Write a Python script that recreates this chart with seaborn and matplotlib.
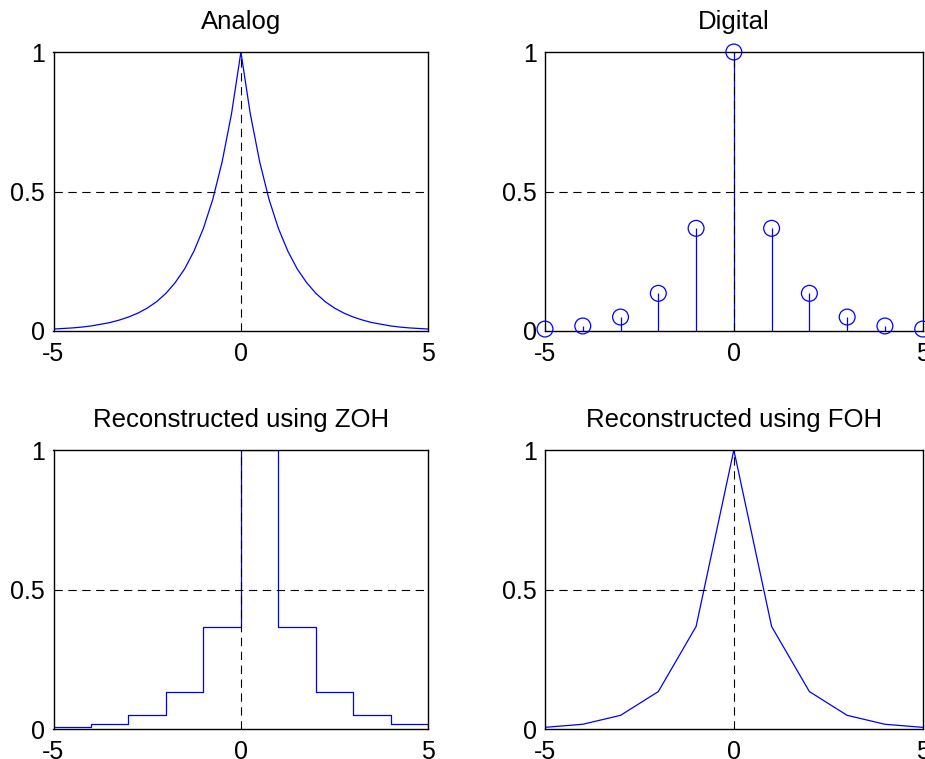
import numpy as np
import pandas as pd
import matplotlib
matplotlib.use("Agg")
import matplotlib.pyplot as plt
import seaborn as sns

# Continuous decaying pulse, sampled on a fine grid
analog_t = np.linspace(-5, 5, 41)
analog_y = [0.007, 0.009, 0.011, 0.014, 0.018, 0.024, 0.030, 0.039, 0.050, 0.064,
            0.082, 0.105, 0.135, 0.174, 0.223, 0.287, 0.368, 0.472, 0.607, 0.779,
            1.000,
            0.779, 0.607, 0.472, 0.368, 0.287, 0.223, 0.174, 0.135, 0.105, 0.082,
            0.064, 0.050, 0.039, 0.030, 0.024, 0.018, 0.014, 0.011, 0.009, 0.007]

# Integer-time samples of the pulse
sample_n = [-5, -4, -3, -2, -1, 0, 1, 2, 3, 4, 5]
sample_y = [0.007, 0.018, 0.050, 0.135, 0.368, 1.000, 0.368, 0.135, 0.050, 0.018, 0.007]

titles = ["Analog", "Digital", "Reconstructed using ZOH", "Reconstructed using FOH"]
x_ticks = [-5, 0, 5]
x_ticklabels = ["-5", "0", "5"]
y_ticks = [0, 0.5, 1]
y_ticklabels = ["0", "0.5", "1"]

sns.set_style("white")
plt.rcParams["font.family"] = ["Liberation Sans", "DejaVu Sans"]
plt.rcParams["lines.scale_dashes"] = False
plt.rcParams["text.color"] = "black"
plt.rcParams["axes.titlecolor"] = "black"

W, H = 925, 759
fig = plt.figure(figsize=(W / 100, H / 100), dpi=100)

def px_axes(left, top, right, bottom):
    return fig.add_axes([left / W, 1 - bottom / H, (right - left) / W, (bottom - top) / H])

axes = [
    px_axes(53.5, 52, 428.3, 331),
    px_axes(545, 52, 922.7, 331),
    px_axes(53.5, 450, 428.3, 729.3),
    px_axes(545, 450, 922.7, 729.3),
]

blue = "#0000ff"
analog_df = pd.DataFrame({"t": analog_t, "y": analog_y})
sample_df = pd.DataFrame({"n": sample_n, "y": sample_y})

# Analog
sns.lineplot(data=analog_df, x="t", y="y", ax=axes[0], color=blue, lw=0.9)

# Digital: stems with open circles
axes[1].vlines(sample_df["n"], 0, sample_df["y"], color=blue, lw=0.9)
sns.scatterplot(data=sample_df, x="n", y="y", ax=axes[1], marker="o", s=130,
                facecolors="none", edgecolor=blue, linewidth=0.9, clip_on=False,
                zorder=5)

# Zero-order hold
sns.lineplot(data=sample_df, x="n", y="y", ax=axes[2], color=blue, lw=0.9,
             drawstyle="steps-post")

# First-order hold
sns.lineplot(data=sample_df, x="n", y="y", ax=axes[3], color=blue, lw=0.9)

for ax, title in zip(axes, titles):
    ax.set_xlim(-5, 5)
    ax.set_ylim(0, 1)
    ax.set_xticks(x_ticks)
    ax.set_xticklabels(x_ticklabels)
    ax.set_yticks(y_ticks)
    ax.set_yticklabels(y_ticklabels)
    ax.set_xlabel("")
    ax.set_ylabel("")
    ax.tick_params(axis="both", labelsize=18, length=0, colors="black")
    ax.tick_params(axis="x", pad=8)
    ax.tick_params(axis="y", pad=6)
    ax.set_title(title, fontsize=18.5, pad=16.5, color="black")
    for sp in ax.spines.values():
        sp.set_visible(True)
        sp.set_color("black")
        sp.set_linewidth(1.0)
    ax.axhline(0.5, color="black", lw=0.8, ls=(0, (6, 4)), zorder=4)
    ax.axvline(0, color="black", lw=0.8, ls=(0, (6, 4)), zorder=4)
    ax.set_facecolor("white")

fig.savefig("out.png", dpi=100)
